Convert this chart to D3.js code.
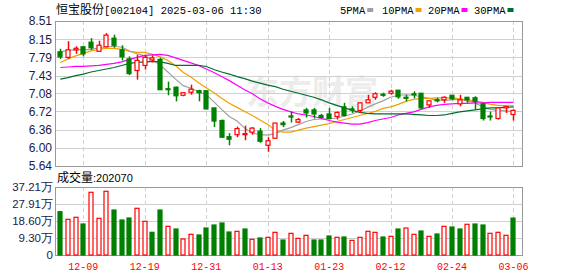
<html>
<head>
<meta charset="utf-8">
<script type="text/javascript" src="https://cdn.jsdelivr.net/npm/d3@7/dist/d3.min.js"></script>
<style>
    body { margin: 0; background: #fff; }
    svg { display: block; }
    .cn { font-family: 'Noto Sans CJK SC', sans-serif; }
    .mono { font-family: 'Liberation Mono', monospace; }
    .num { font-family: 'Liberation Sans', Arial, sans-serif; }
</style>
</head>
<body>
<svg id="kline" width="578" height="276"></svg>

<script type="text/javascript">
// trading days shown
var dates = ["12-04","12-05","12-06","12-09","12-10","12-11","12-12","12-13","12-16","12-17",
    "12-18","12-19","12-20","12-23","12-24","12-25","12-26","12-27","12-30","12-31",
    "01-02","01-03","01-06","01-07","01-08","01-09","01-10","01-13","01-14","01-15",
    "01-16","01-17","01-20","01-21","01-22","01-23","01-24","01-27","02-05","02-06",
    "02-07","02-10","02-11","02-12","02-13","02-14","02-17","02-18","02-19","02-20",
    "02-21","02-24","02-25","02-26","02-27","02-28","03-03","03-04","03-05","03-06"];

var open  = [7.90,7.79,7.94,8.00,8.09,7.91,8.00,8.17,7.94,7.76, 7.53,7.63,7.74,7.75,7.17,7.20,7.04,7.10,7.13,7.13,
             6.79,6.54,6.22,6.26,6.27,6.31,6.33,6.05,6.19,6.49, 6.63,6.51,6.75,6.75,6.64,6.67,6.62,6.81,6.77,6.74,
             6.89,7.00,7.06,7.08,7.14,7.00,7.07,7.08,6.85,6.95, 6.95,7.04,6.87,7.00,6.99,6.87,6.63,6.58,6.79,6.66];
var high  = [7.96,8.11,8.01,8.00,8.17,8.12,8.27,8.24,8.03,7.81, 7.84,7.84,7.83,7.78,7.31,7.21,7.10,7.25,7.15,7.13,
             6.79,6.56,6.29,6.42,6.44,6.41,6.39,6.21,6.49,6.53, 6.72,6.59,6.79,6.79,6.67,6.79,6.72,6.89,6.82,6.89,
             7.05,7.10,7.09,7.15,7.14,7.05,7.12,7.08,6.93,6.99, 7.02,7.04,7.05,7.00,7.02,6.89,6.72,6.80,6.83,6.76];
var low   = [7.76,7.76,7.86,7.81,7.94,7.91,7.99,7.98,7.73,7.44, 7.35,7.55,7.69,7.15,7.04,6.92,7.02,7.05,6.92,6.76,
             6.41,6.20,6.05,6.21,6.15,6.26,6.10,5.92,6.19,6.41, 6.50,6.49,6.60,6.58,6.59,6.58,6.56,6.62,6.69,6.69,
             6.89,6.95,7.01,7.05,6.97,6.92,6.98,6.77,6.79,6.90, 6.89,6.95,6.82,6.89,6.76,6.54,6.54,6.56,6.69,6.54];
var close = [7.80,7.94,7.97,7.86,7.98,8.03,8.23,8.03,7.80,7.47, 7.73,7.79,7.78,7.15,7.16,7.03,7.09,7.16,7.09,6.77,
             6.53,6.21,6.17,6.38,6.28,6.39,6.13,6.14,6.49,6.46, 6.61,6.56,6.69,6.67,6.60,6.58,6.70,6.64,6.76,6.89,
             6.95,7.07,7.05,7.12,7.01,6.99,7.06,6.79,6.93,6.94, 7.00,6.97,6.95,6.95,6.92,6.58,6.62,6.79,6.82,6.74];

// moving averages as drawn
var ma5  = [7.90,7.93,7.94,7.94,7.95,7.98,8.00,8.01,7.99,7.92, 7.86,7.82,7.74,7.64,7.50,7.36,7.23,7.18,7.11,7.05,
            6.91,6.76,6.62,6.53,6.39,6.29,6.26,6.25,6.28,6.35, 6.40,6.46,6.52,6.56,6.57,6.57,6.59,6.63,6.67,6.73,
            6.80,6.87,6.93,7.00,7.04,7.05,7.04,7.01,6.98,6.95, 6.94,6.95,6.96,6.93,6.89,6.81,6.76,6.74,6.73,6.72];
var ma10 = [7.69,7.76,7.82,7.87,7.92,7.95,7.97,7.97,7.95,7.91, 7.89,7.89,7.85,7.80,7.73,7.63,7.49,7.40,7.29,7.19,
            7.09,6.98,6.88,6.80,6.72,6.64,6.55,6.46,6.35,6.31, 6.31,6.35,6.39,6.42,6.45,6.48,6.52,6.56,6.60,6.64,
            6.68,6.72,6.78,6.81,6.86,6.92,6.96,6.98,6.98,6.99, 6.99,6.99,6.97,6.95,6.93,6.90,6.86,6.84,6.83,6.83];
var ma20 = [7.59,7.60,7.61,7.61,7.62,7.63,7.65,7.67,7.70,7.75, 7.79,7.83,7.84,7.85,7.83,7.78,7.73,7.68,7.63,7.56,
            7.49,7.41,7.33,7.24,7.15,7.07,6.97,6.89,6.82,6.76, 6.71,6.67,6.65,6.62,6.58,6.54,6.51,6.49,6.47,6.47,
            6.50,6.54,6.57,6.60,6.65,6.68,6.71,6.76,6.81,6.84, 6.86,6.87,6.88,6.88,6.89,6.89,6.90,6.90,6.90,6.90];
var ma30 = [7.36,7.39,7.43,7.46,7.50,7.53,7.56,7.59,7.63,7.67, 7.69,7.70,7.71,7.70,7.67,7.63,7.63,7.63,7.63,7.61,
            7.55,7.50,7.46,7.41,7.37,7.32,7.28,7.24,7.21,7.16, 7.12,7.08,7.04,7.00,6.95,6.89,6.84,6.79,6.74,6.70,
            6.68,6.67,6.67,6.67,6.67,6.67,6.66,6.65,6.64,6.64, 6.65,6.68,6.71,6.73,6.75,6.77,6.79,6.79,6.80,6.81];

// volume in hands, and whether the bar is drawn as up (red) or down (green)
var volume = [236900,195300,206300,169600,343100,200800,348600,246200,191500,202500,
              255500,184400,124200,246200,157000,142300, 87600,113300,109400,147700,
              164200,175100,125900,129500,142300, 85700, 93000, 96700,124000, 82100,
              118500, 91200,107600, 82100, 82100,104000, 96700, 98500, 80300, 96700,
              129500,124000, 98500,102100,142300,147700,113300,131300,102100,114900,
              157000,153200,142300,168000,169600,164200,118700,124200,107800,202070];
var volUp  = [0,1,1,0,1,1,1,0,0,0, 1,1,0,0,1,0,1,1,0,0, 0,0,0,1,0,1,0,1,1,0,
              1,1,1,0,0,0,1,0,1,1, 1,1,0,1,0,1,1,0,1,0, 1,0,0,1,0,0,1,1,1,0];

var priceTicks  = ["5.64","6.00","6.36","6.72","7.08","7.43","7.79","8.15","8.51"];
var volumeTicks = ["0","9.30万","18.60万","27.91万","37.21万"];
var dateTicks   = ["12-09","12-19","12-31","01-13","01-23","02-12","02-24","03-06"];

var maNames  = ["5PMA","10PMA","20PMA","30PMA"];
var maColors = ["#a0a0a0","#f0a000","#ff00ff","#006e32"];

var RED = "#ff0000", GREEN = "#008000";

var svg = d3.select("#kline");

var left = 55.5, right = 522.5;
var pTop = 21, pBottom = 166;
var vTop = 187, vBottom = 255;

var x = d3.scaleBand().domain(dates).range([56.5, 517.3]);
var cx = function(d) { return x(d) + x.bandwidth() / 2; };
var y = d3.scaleLinear().domain([5.64, 8.51]).range([pBottom, pTop]);
var yv = d3.scaleLinear().domain([0, 372100]).range([vBottom, vTop]);

var bodyW = 5;

// watermark
svg.append("text")
    .attr("class", "cn")
    .attr("x", 246).attr("y", 104)
    .attr("font-size", 33).attr("font-weight", "bold")
    .attr("fill", "#ececec")
    .text("东方财富");

// grids
function grid(ticks, scale, yy0, yy1) {
    svg.append("g").selectAll("line").data(ticks).enter().append("line")
        .attr("x1", left).attr("x2", right)
        .attr("y1", function(d) { return Math.round(scale(d)) + 0.5; })
        .attr("y2", function(d) { return Math.round(scale(d)) + 0.5; })
        .attr("stroke", "#d0d0d0");
    svg.append("g").selectAll("line").data(dateTicks).enter().append("line")
        .attr("x1", function(d) { return Math.round(cx(d)) + 0.5; })
        .attr("x2", function(d) { return Math.round(cx(d)) + 0.5; })
        .attr("y1", yy0).attr("y2", yy1)
        .attr("stroke", "#d0d0d0").attr("stroke-dasharray", "4,3");
}
grid(priceTicks.map(Number), y, pTop, pBottom);
grid(volumeTicks.map(function(t) { return t == "0" ? 0 : parseFloat(t) * 10000; }), yv, vTop, vBottom);

// frames
svg.append("rect").attr("x", left).attr("y", pTop + 0.5)
    .attr("width", right - left).attr("height", pBottom - pTop)
    .attr("fill", "none").attr("stroke", "#999");
svg.append("rect").attr("x", left).attr("y", vTop + 0.5)
    .attr("width", right - left).attr("height", vBottom - vTop)
    .attr("fill", "none").attr("stroke", "#999");

// MA lines
var line = d3.line()
    .x(function(d, i) { return cx(dates[i]); })
    .y(function(d) { return y(d); });
[ma5, ma10, ma20, ma30].forEach(function(ma, k) {
    svg.append("path").datum(ma)
        .attr("d", line)
        .attr("fill", "none")
        .attr("stroke", maColors[k])
        .attr("stroke-width", 1.2);
});

// candles
var candles = svg.append("g").selectAll("g").data(dates).enter().append("g");
candles.append("line")
    .attr("x1", function(d) { return Math.round(cx(d)) + 0.5; })
    .attr("x2", function(d) { return Math.round(cx(d)) + 0.5; })
    .attr("y1", function(d, i) { return y(high[i]); })
    .attr("y2", function(d, i) { return y(low[i]); })
    .attr("stroke", function(d, i) { return close[i] >= open[i] ? RED : GREEN; })
    .attr("stroke-width", 1.5);
candles.append("rect")
    .attr("x", function(d) { return Math.round(cx(d)) - 2; })
    .attr("width", bodyW - 1)
    .attr("y", function(d, i) { return y(Math.max(open[i], close[i])); })
    .attr("height", function(d, i) { return Math.max(1, Math.abs(y(open[i]) - y(close[i]))); })
    .attr("fill", function(d, i) { return close[i] >= open[i] ? "#fff" : GREEN; })
    .attr("stroke", function(d, i) { return close[i] >= open[i] ? RED : GREEN; })
    .attr("stroke-width", 1.2);

// volume bars
svg.append("g").selectAll("rect").data(dates).enter().append("rect")
    .attr("x", function(d) { return Math.round(cx(d)) - 2; })
    .attr("width", bodyW - 1)
    .attr("y", function(d, i) { return yv(volume[i]); })
    .attr("height", function(d, i) { return vBottom - yv(volume[i]); })
    .attr("fill", function(d, i) { return volUp[i] ? "#fff" : GREEN; })
    .attr("stroke", function(d, i) { return volUp[i] ? RED : GREEN; })
    .attr("stroke-width", 1.2);

// axis labels
svg.append("g").selectAll("text").data(priceTicks).enter().append("text")
    .attr("class", "num")
    .attr("x", 52).attr("y", function(d) { return y(+d); })
    .attr("dy", "0.36em")
    .attr("text-anchor", "end")
    .attr("font-size", 12).attr("fill", "#1a1a4a")
    .text(function(d) { return d; });

svg.append("g").selectAll("text").data(volumeTicks).enter().append("text")
    .attr("class", "num")
    .attr("x", 53).attr("y", function(d) { return yv(d == "0" ? 0 : parseFloat(d) * 10000); })
    .attr("dy", "0.36em")
    .attr("text-anchor", "end")
    .attr("font-size", 11.5).attr("fill", "#1a1a4a")
    .text(function(d) { return d; });

svg.append("g").selectAll("text").data(dateTicks).enter().append("text")
    .attr("class", "mono")
    .attr("x", function(d) { return cx(d); })
    .attr("y", 270)
    .attr("text-anchor", "middle")
    .attr("font-size", 10).attr("fill", RED)
    .text(function(d) { return d; });

// title
var title = svg.append("text").attr("x", 56).attr("y", 14).attr("font-size", 12).attr("fill", "#000");
title.append("tspan").attr("class", "cn").text("恒宝股份");
title.append("tspan").attr("class", "mono").attr("font-size", 10.5).text("[002104] 2025-03-06 11:30");

// volume caption
var cap = svg.append("text").attr("x", 57).attr("y", 182).attr("font-size", 12).attr("fill", "#000");
cap.append("tspan").attr("class", "cn").text("成交量");
cap.append("tspan").attr("class", "num").attr("font-size", 11).text(":" + volume[volume.length - 1]);

// legend
var legX = [340, 382, 428, 474];
var leg = svg.append("g").selectAll("g").data(maNames).enter().append("g");
leg.append("text")
    .attr("class", "mono")
    .attr("x", function(d, i) { return legX[i]; })
    .attr("y", 14)
    .attr("font-size", 10.5)
    .attr("fill", "#000")
    .text(function(d) { return d; });
leg.append("rect")
    .attr("x", function(d, i) { return legX[i] + d.length * 6.3 + 2; })
    .attr("y", 8)
    .attr("width", 6).attr("height", 4)
    .attr("fill", function(d, i) { return maColors[i]; });
</script>
</body>
</html>
